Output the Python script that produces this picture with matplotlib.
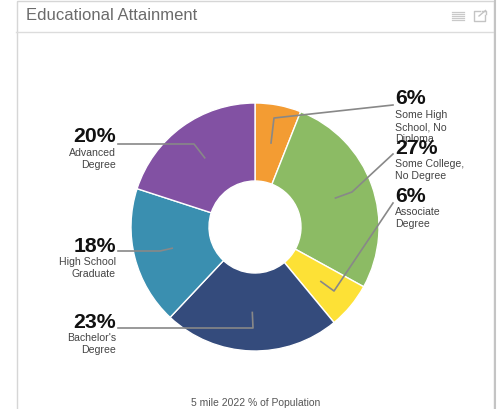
import numpy as np
import matplotlib
matplotlib.use('Agg')
import matplotlib.pyplot as plt
from matplotlib.patches import Rectangle

plt.rcParams['font.family'] = ['Liberation Sans', 'DejaVu Sans']

# share of population per education level, clockwise from the top
categories = ['Some High\nSchool, No\nDiploma', 'Some College,\nNo Degree', 'Associate\nDegree',
              "Bachelor's\nDegree", 'High School\nGraduate', 'Advanced\nDegree']
values = [6, 27, 6, 23, 18, 20]
colors = ['#F39C33', '#8CBB64', '#FDE136', '#344B7C', '#3A8FB0', '#8251A3']

W, H = 498, 409
CX, CY, R, R_IN = 255, 227, 124, 46
LEAD_R = 85.5

# label layout: text anchor x, percent y, leader elbow, leader end
label_x = [395, 395, 395, 116, 116, 116]
label_y = [99, 148, 196, 322, 246, 137]
elbows = [(274, 118), (352, 192), (334, 291), (253, 328), (160, 251), (194, 144)]
ends = [(393, 105), (393, 154), (393, 203), (118, 328), (118, 251), (118, 144)]

fig = plt.figure(figsize=(W / 100, H / 100), dpi=100, facecolor='white')

# overlay axes in pixel units, y pointing down
ax = fig.add_axes([0, 0, 1, 1], zorder=2)
ax.set_xlim(0, W)
ax.set_ylim(H, 0)
ax.axis('off')
ax.patch.set_alpha(0)

# donut
pie_ax = fig.add_axes([(CX - R) / W, 1 - (CY + R) / H, 2 * R / W, 2 * R / H], zorder=1)
pie_ax.pie(values, colors=colors, startangle=90, counterclock=False, radius=1,
           wedgeprops=dict(width=1 - R_IN / R, edgecolor='white', linewidth=1))
pie_ax.set_xlim(-1, 1)
pie_ax.set_ylim(-1, 1)

# card frame and header
ax.add_patch(Rectangle((16.5, 0.5), 477, 420, fill=False, edgecolor='#d6d6d6', linewidth=1))
ax.plot([16, 494], [31.5, 31.5], color='#dcdcdc', lw=1)
ax.plot([495, 495], [0, H], color='#c4c4c4', lw=1.5)
ax.text(26, 16, 'Educational Attainment', fontsize=12, color='#6b6b6b', ha='left', va='center')

# list icon
for y in [11.5, 13.5, 15.5, 17.5, 19.5]:
    ax.plot([452, 464], [y, y], color='#c9c9c9', lw=0.9)
# open-in-new icon
ax.plot([480, 474, 474, 485, 485], [11, 11, 21, 21, 15], color='#c4c4c4', lw=1)
ax.plot([479, 485.5], [16, 10.5], color='#c4c4c4', lw=1)
ax.plot([481.5, 485.5, 485.5], [10.5, 10.5, 14], color='#c4c4c4', lw=1)

# leaders start at each slice's middle angle
cum = np.cumsum([0] + values)
total = sum(values)
for i, val in enumerate(values):
    ang = 2 * np.pi * (cum[i] + val / 2) / total
    start = (CX + LEAD_R * np.sin(ang), CY - LEAD_R * np.cos(ang))
    ax.plot([start[0], elbows[i][0], ends[i][0]], [start[1], elbows[i][1], ends[i][1]],
            color='#888888', lw=1.2, solid_joinstyle='round')

    ha = 'left' if label_x[i] > CX else 'right'
    ax.text(label_x[i], label_y[i], '{}%'.format(val), fontsize=15.3, fontweight='bold',
            color='#111111', ha=ha, va='center')
    for j, line in enumerate(categories[i].split('\n')):
        ax.text(label_x[i], label_y[i] + 16 + 12 * j, line, fontsize=7.6,
                color='#444444', ha=ha, va='center')

ax.text(255.5, 403, '5 mile 2022 % of Population', fontsize=7.5, color='#555555', ha='center', va='center')

fig.savefig('out.png', dpi=100)
